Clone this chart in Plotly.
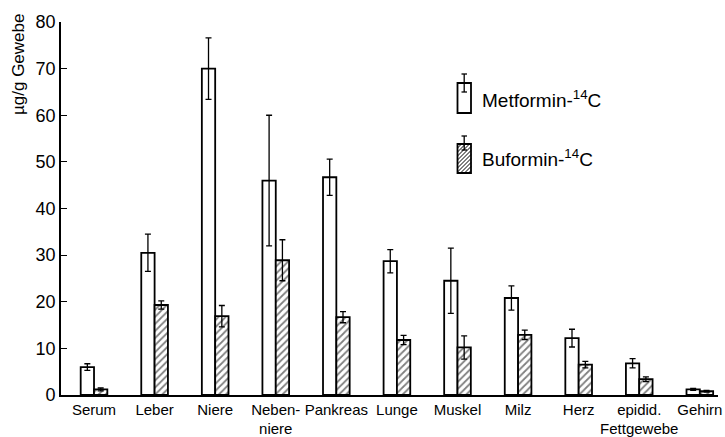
import plotly.graph_objects as go

categories = ["Serum", "Leber", "Niere", "Neben-<br>niere", "Pankreas", "Lunge",
              "Muskel", "Milz", "Herz", "epidid.<br>Fettgewebe", "Gehirn"]
metformin = [6.0, 30.5, 70.0, 46.0, 46.7, 28.7, 24.5, 20.8, 12.2, 6.8, 1.2]
metformin_err = [0.7, 4.0, 6.6, 14.0, 3.9, 2.5, 7.0, 2.6, 1.9, 1.0, 0.2]
buformin = [1.2, 19.3, 16.9, 28.9, 16.7, 11.8, 10.2, 12.9, 6.5, 3.4, 0.8]
buformin_err = [0.3, 0.9, 2.3, 4.4, 1.2, 1.0, 2.5, 1.0, 0.7, 0.5, 0.2]
y_ticks = [0, 10, 20, 30, 40, 50, 60, 70, 80]

W, H = 725, 437
L, R, T, B = 61, 7, 22, 42
FONT = "Liberation Sans, Arial, sans-serif"

def px2x(px):
    return (px - L) / (W - L - R)

def py2y(py):
    return (H - B - py) / (H - T - B)

xpos = list(range(len(categories)))

fig = go.Figure()
fig.add_trace(go.Bar(
    x=xpos, y=metformin, name="Metformin",
    marker=dict(color="white", line=dict(color="black", width=1.8)),
    error_y=dict(type="data", array=metformin_err, color="black", thickness=1.3, width=3),
))
fig.add_trace(go.Bar(
    x=xpos, y=buformin, name="Buformin",
    marker=dict(color="white", line=dict(color="black", width=1.8),
                pattern=dict(shape="/", fgcolor="black", bgcolor="white", size=5, solidity=0.35)),
    error_y=dict(type="data", array=buformin_err, color="black", thickness=1.3, width=3),
))

# legend icons (decoration)
shapes = []
shapes.append(dict(type="rect", xref="paper", yref="paper",
                   x0=px2x(457.5), x1=px2x(471), y0=py2y(113), y1=py2y(83),
                   line=dict(color="black", width=1.8), fillcolor="white"))
shapes.append(dict(type="line", xref="paper", yref="paper",
                   x0=px2x(464.2), x1=px2x(464.2), y0=py2y(74), y1=py2y(92),
                   line=dict(color="black", width=1.3)))
for yy in (74, 92):
    shapes.append(dict(type="line", xref="paper", yref="paper",
                       x0=px2x(461.5), x1=px2x(467), y0=py2y(yy), y1=py2y(yy),
                       line=dict(color="black", width=1.3)))
x0i, x1i, y0i, y1i = 457.5, 471, 144, 173
path = ""
step = 4
k = -int(y1i - y0i)
while k < (x1i - x0i):
    sx, sy = x0i + k, y1i
    ex, ey = sx + (y1i - y0i), y0i
    if sx < x0i:
        sy = y1i - (x0i - sx); sx = x0i
    if ex > x1i:
        ey = y0i + (ex - x1i); ex = x1i
    if sx < ex:
        path += f"M{px2x(sx)},{py2y(sy)} L{px2x(ex)},{py2y(ey)} "
    k += step
shapes.append(dict(type="path", xref="paper", yref="paper", path=path,
                   line=dict(color="black", width=1.0)))
shapes.append(dict(type="rect", xref="paper", yref="paper",
                   x0=px2x(x0i), x1=px2x(x1i), y0=py2y(y1i), y1=py2y(y0i),
                   line=dict(color="black", width=1.8)))
shapes.append(dict(type="line", xref="paper", yref="paper",
                   x0=px2x(464.2), x1=px2x(464.2), y0=py2y(136), y1=py2y(150),
                   line=dict(color="black", width=1.3)))
for yy in (136, 150):
    shapes.append(dict(type="line", xref="paper", yref="paper",
                       x0=px2x(461.5), x1=px2x(467), y0=py2y(yy), y1=py2y(yy),
                       line=dict(color="black", width=1.3)))

annotations = [
    dict(text="Metformin-<sup>14</sup>C", xref="paper", yref="paper",
         x=px2x(480), y=py2y(99), xanchor="left", yanchor="middle", showarrow=False,
         font=dict(family=FONT, size=19, color="black")),
    dict(text="Buformin-<sup>14</sup>C", xref="paper", yref="paper",
         x=px2x(480), y=py2y(158), xanchor="left", yanchor="middle", showarrow=False,
         font=dict(family=FONT, size=19, color="black")),
    dict(text="µg/g Gewebe", xref="paper", yref="paper", textangle=-90,
         x=px2x(19), y=py2y(65), xanchor="center", yanchor="middle", showarrow=False,
         font=dict(family=FONT, size=17, color="black")),
]

fig.update_layout(
    width=W, height=H,
    margin=dict(l=L, r=R, t=T, b=B, pad=0, autoexpand=False),
    paper_bgcolor="white", plot_bgcolor="white",
    barmode="group", bargap=0.56, bargroupgap=0,
    showlegend=False,
    shapes=shapes, annotations=annotations,
    font=dict(family=FONT, color="black"),
)
fig.update_xaxes(
    range=[-0.545, 10.3], tickvals=xpos, ticktext=categories, tickangle=0,
    automargin=False,
    showline=True, linecolor="black", linewidth=1.6, ticks="", showgrid=False,
    zeroline=False, tickfont=dict(family=FONT, size=15, color="black"),
)
fig.update_yaxes(
    range=[0, 80], tickvals=y_ticks, ticks="inside", ticklen=6, tickwidth=1.2,
    automargin=False,
    tickcolor="black", showline=True, linecolor="black", linewidth=1.6,
    showgrid=False, zeroline=False, tickfont=dict(family=FONT, size=18, color="black"),
)

fig.write_html("out.html", config={"displayModeBar": False},
               post_script="document.body.style.margin='0';document.body.style.padding='0';")
